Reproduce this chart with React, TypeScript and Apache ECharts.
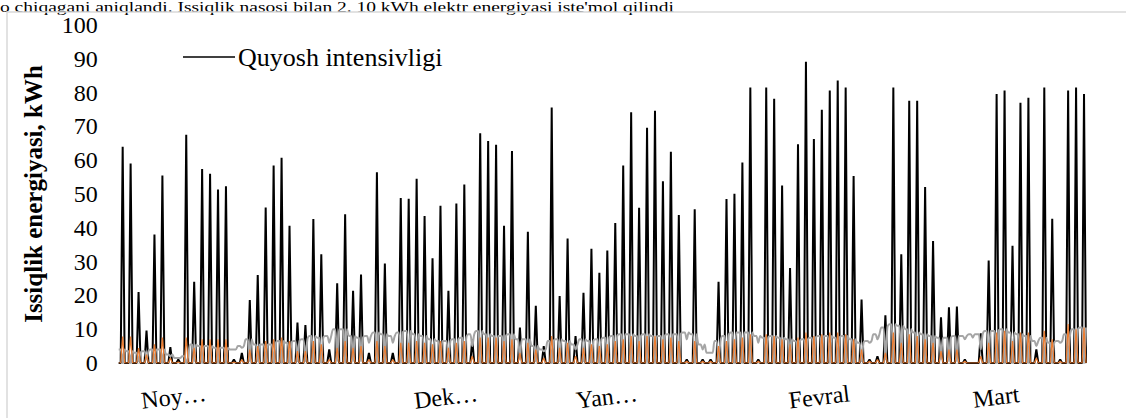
import React, { useEffect, useRef } from "react";
import * as echarts from "echarts";

// Daily noon peaks (122 days)
const solarNoon = [
  64, 59, 21, 9.6, 38, 55.5, 4.7, 1, 67.5, 24, 57.4, 56, 51.3, 52.3, 1, 3, 18.6, 26, 46, 58.4,
  60.7, 40.6, 12, 11.2, 42.6, 32.2, 4, 23.6, 44, 21.4, 26.2, 3, 56.4, 29.4, 3, 48.8, 48.6, 54.5, 43.5, 31,
  46.5, 21.4, 47.2, 52.8, 7, 68, 65.7, 64.6, 40.6, 62.7, 10.5, 38.8, 16.9, 5, 75.6, 19.8, 36.8, 8, 20.8, 33.8,
  26.7, 33.3, 41.4, 58.4, 74.2, 45.9, 69.6, 74.6, 53.8, 62.5, 43.8, 1, 45.5, 1, 1, 24, 48.5, 50.1, 59.3, 81.5,
  1, 81.5, 78.2, 52.5, 28.1, 64.7, 89.1, 66.3, 74.9, 80.6, 83.6, 81.5, 55.3, 18.8, 1, 2, 14.1, 81.5, 32.2, 77.6,
  77.6, 52.1, 36.1, 13.5, 16.5, 16.7, 1, 0, 8.8, 30.3, 79.6, 80.6, 34.7, 77, 78.5, 4, 81.5, 42.7, 1, 80.6,
  81.5, 79.6,
];

const orangeNoon = [
  7.8, 7.8, 4.4, 2.5, 5.5, 7.5, 1.5, 0.3, 7.5, 4.5, 7, 7, 7, 7, 0.3, 1, 4, 5, 6.5, 7,
  7.5, 6.5, 3.5, 3.5, 6.5, 5.5, 1, 4.5, 6.5, 4.5, 5, 1, 6.5, 5, 1, 6, 6, 6.5, 6, 5.5,
  6.5, 4.5, 6, 6.5, 2, 7.5, 7.5, 7.5, 6.5, 7, 3, 6, 4, 1.5, 8, 4.5, 6, 2, 4.5, 5.5,
  5, 5.5, 6.5, 7, 8, 6.5, 8, 8, 7, 7.5, 6.5, 0.5, 6.5, 0.5, 0.5, 5, 6.5, 7, 7.5, 8.5,
  0.5, 8.5, 8, 7, 5.5, 7.5, 9, 8, 8.5, 9, 9, 8.5, 7, 4, 0.5, 1, 3, 9, 6, 8.5,
  8, 7, 6, 3.5, 4, 4, 0.5, 0, 2, 6, 9, 9.5, 6.5, 9, 9, 1.5, 9.5, 7, 0.5, 11.5,
  10, 10.5,
];

const grayNight = [
  4, 3.5, 3, 3.5, 4, 4, 2.5, 1.5, 2, 5.5, 5, 5, 4.5, 4.5, 4, 5, 7, 5.5, 5.5, 5.5,
  6.5, 6, 6.5, 7, 8, 7.5, 8, 10, 10, 8, 7.5, 8, 9, 8.5, 8, 9, 9.5, 8.5, 8, 7,
  6.5, 6.5, 7, 7.5, 8.5, 9.5, 8.5, 8, 8, 8.5, 7, 7, 5, 4, 6.5, 7, 6.5, 5.5, 7, 6.5,
  7, 7.5, 8, 8.5, 8.5, 8, 8.5, 8, 8, 8.5, 8.5, 9, 8.5, 5.5, 3, 6.5, 8, 9, 9, 9,
  8, 7.5, 8, 7.5, 7, 6.5, 7, 7.5, 8, 8, 7.5, 8, 7, 6, 6.5, 8.5, 10.5, 11.5, 11, 10,
  9, 8.5, 8, 7.5, 7.5, 8, 8, 8.5, 8.5, 9.5, 9.5, 10, 9, 8.5, 8, 6.5, 7.5, 6, 6.5, 8.5,
  10, 10.5,
];

const grayNoon = [
  0, 0, 0.5, 1, 0, 0, 2, 1.5, 0, 0.5, 0, 0, 0, 0, 4, 4.5, 0.5, 0.5, 0, 0,
  0, 0, 0.5, 0.5, 0, 0, 6, 0.5, 0, 0.5, 0.5, 6, 0, 0, 6, 0, 0, 0, 0, 0,
  0, 0.5, 0, 0, 5, 0, 0, 0, 0, 0, 1, 0, 0.5, 3.5, 0, 0.5, 0, 4, 0.5, 0,
  0, 0, 0, 0, 0, 0, 0, 0, 0, 0, 0, 7, 0, 4, 3, 0.5, 0, 0, 0, 0,
  6, 0, 0, 0, 0, 0, 0, 0, 0, 0, 0, 0, 0, 0.5, 6, 7, 1, 0, 0, 0,
  0, 0, 0, 1, 0.5, 0.5, 7, 7.5, 4, 0, 0, 0, 0, 0, 0, 5, 0, 0, 6, 0,
  0, 0,
];

const monthLabels = ["Noy…", "Dek…", "Yan…", "Fevral", "Mart"];
const monthLabelIndex = [27, 164, 245, 352, 441];

const yTicks = [0, 10, 20, 30, 40, 50, 60, 70, 80, 90, 100];

const seriesNames = ["Quyosh intensivligi", "Quyosh kollektori", "Issiqlik nasosi"];

const headerText =
  "o chiqagani aniqlandi. Issiqlik nasosi bilan 2. 10 kWh elektr energiyasi iste'mol qilindi";

export default function App() {
  const ref = useRef<HTMLDivElement>(null);

  useEffect(() => {
    if (!ref.current) return;
    const chart = echarts.init(ref.current, undefined, { renderer: "svg" });

    const black: number[] = [];
    const orange: number[] = [];
    const gray: number[] = [];
    solarNoon.forEach((v, d) => {
      black.push(0, 0, v, 0);
      orange.push(0, 0, orangeNoon[d], 0);
      gray.push(grayNight[d], grayNight[d], grayNoon[d], grayNight[d]);
    });
    const categories: string[] = black.map(() => "");
    monthLabelIndex.forEach((idx, k) => {
      categories[idx] = monthLabels[k];
    });

    const font = "Liberation Serif";

    chart.setOption({
      animation: false,
      backgroundColor: "#fff",
      graphic: [
        {
          type: "text",
          x: 0,
          y: 0,
          scaleX: 1.3,
          style: {
            text: headerText,
            fontFamily: font,
            fontSize: 15,
            fill: "#000",
            verticalAlign: "top",
          },
        },
        {
          type: "rect",
          shape: { x: 7, y: 12, width: 1130, height: 420 },
          style: { fill: "none", stroke: "#d9d9d9", lineWidth: 1.5 },
          silent: true,
        },
      ],
      legend: {
        data: [seriesNames[0]],
        left: 183,
        top: 44,
        padding: 0,
        icon: "rect",
        itemWidth: 52,
        itemHeight: 1.5,
        itemGap: 10,
        textStyle: { fontFamily: font, fontSize: 26, color: "#000", padding: [0, 0, 0, -2] },
      },
      grid: { left: 118.7, right: 40, top: 25, bottom: 55, containLabel: false },
      xAxis: {
        type: "category",
        data: categories,
        boundaryGap: false,
        axisLine: { show: true, lineStyle: { color: "#d9d9d9" } },
        axisTick: { show: false },
        axisLabel: {
          interval: (i: number) => categories[i] !== "",
          rotate: 7,
          align: "center",
          verticalAlign: "top",
          margin: 22,
          fontFamily: font,
          fontSize: 24,
          color: "#000",
        },
        splitLine: { show: false },
      },
      yAxis: {
        type: "value",
        min: yTicks[0],
        max: yTicks[yTicks.length - 1],
        interval: 10,
        name: "Issiqlik energiyasi, kWh",
        nameLocation: "middle",
        nameGap: 73,
        nameTextStyle: { fontFamily: font, fontSize: 25, fontWeight: "bold", color: "#000" },
        axisLine: { show: false },
        axisTick: { show: false },
        splitLine: { show: false },
        axisLabel: { margin: 21, fontFamily: font, fontSize: 24, color: "#000" },
      },
      series: [
        {
          name: seriesNames[0],
          type: "line",
          data: black,
          symbol: "none",
          z: 2,
          lineStyle: { color: "#000", width: 2 },
          itemStyle: { color: "#000" },
        },
        {
          name: seriesNames[2],
          type: "line",
          data: gray,
          symbol: "none",
          smooth: 0.3,
          z: 3,
          lineStyle: { color: "#A5A5A5", width: 2 },
          itemStyle: { color: "#A5A5A5" },
        },
        {
          name: seriesNames[1],
          type: "line",
          data: orange,
          symbol: "none",
          z: 4,
          lineStyle: { color: "#ED7D31", width: 1.2 },
          itemStyle: { color: "#ED7D31" },
        },
      ],
    });

    return () => chart.dispose();
  }, []);

  return (
    <div
      ref={ref}
      style={{ position: "fixed", left: 0, top: 0, width: 1126, height: 418, background: "#fff" }}
    />
  );
}
